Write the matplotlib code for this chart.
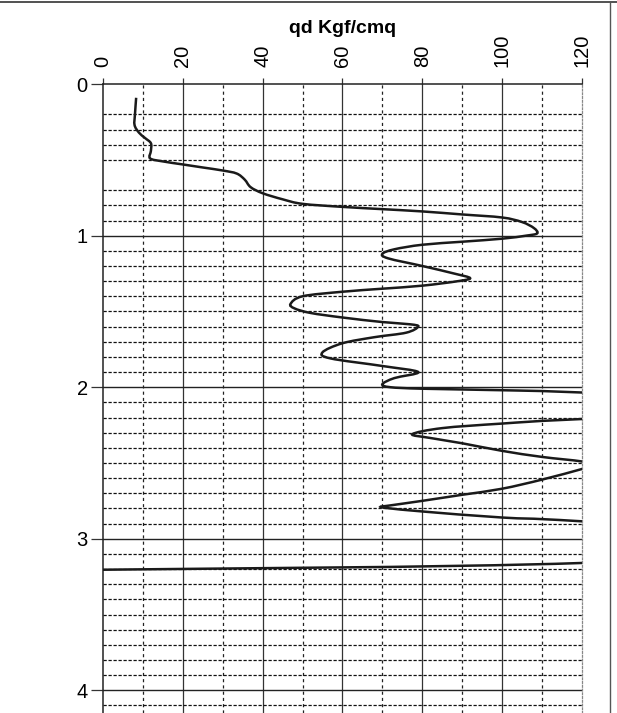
import numpy as np
import matplotlib
matplotlib.use("Agg")
import matplotlib.pyplot as plt
from matplotlib.lines import Line2D
from matplotlib.path import Path
from matplotlib.patches import PathPatch

plt.rcParams["font.family"] = ["Liberation Sans", "DejaVu Sans"]

# ---------------------------------------------------------------- dati
# resistenza di punta qd [Kgf/cmq] in funzione della profondità [m]
qd = [8.3, 8.0, 7.9, 9.0, 10.5, 12.0, 12.0, 11.8, 15, 20, 25, 30, 33.5, 35.5, 37,
      40, 45, 50, 60, 70, 80, 90, 100, 105, 108, 108.8, 106, 100, 90, 80, 73,
      70, 71.5, 80, 88, 92, 89, 80, 70, 60, 50, 47, 48, 52, 60, 70, 77, 79, 76,
      68, 60, 55, 57, 70, 79, 73, 70, 72, 80, 100, 120, 200, 120, 100, 85, 77.5,
      82, 90, 100, 110, 120, 123, 120, 110, 100, 90, 80, 72, 69.5, 72, 80, 100,
      120, 200, 120, -2]
depth = [0.09, 0.20, 0.27, 0.32, 0.355, 0.39, 0.44, 0.49, 0.51, 0.53, 0.55, 0.57,
         0.59, 0.63, 0.68, 0.72, 0.76, 0.79, 0.81, 0.825, 0.84, 0.86, 0.88, 0.91,
         0.95, 0.985, 1.0, 1.02, 1.04, 1.06, 1.09, 1.12, 1.15, 1.20, 1.25, 1.28,
         1.30, 1.33, 1.35, 1.37, 1.40, 1.45, 1.48, 1.51, 1.54, 1.57, 1.585, 1.60,
         1.64, 1.67, 1.71, 1.77, 1.81, 1.86, 1.90, 1.94, 1.98, 2.0, 2.01, 2.02,
         2.035, 2.12, 2.21, 2.24, 2.27, 2.31, 2.335, 2.37, 2.42, 2.46, 2.49, 2.515,
         2.54, 2.61, 2.67, 2.71, 2.75, 2.78, 2.79, 2.80, 2.82, 2.86, 2.885, 3.02,
         3.16, 3.205]

x_major = [0, 20, 40, 60, 80, 100, 120]
x_minor = [10, 30, 50, 70, 90, 110]
y_major = [0, 1, 2, 3, 4]
y_minor = [d / 10 for d in range(2, 42) if d % 10 != 0 and d != 6]


def smooth_path(xs, ys, t=1 / 6):
    """Linea 'smussata' tipo Excel: segmenti di Bézier cubiche (Catmull-Rom)."""
    p = np.column_stack([xs, ys]).astype(float)
    verts = [p[0]]
    codes = [Path.MOVETO]
    n = len(p)
    for i in range(n - 1):
        p0 = p[i - 1] if i > 0 else p[i]
        p3 = p[i + 2] if i + 2 < n else p[i + 1]
        c1 = p[i] + (p[i + 1] - p0) * t
        c2 = p[i + 1] - (p3 - p[i]) * t
        verts += [c1, c2, p[i + 1]]
        codes += [Path.CURVE4] * 3
    return Path(verts, codes)


# ---------------------------------------------------------------- figura
fig = plt.figure(figsize=(6.17, 7.13), dpi=100)
ax = fig.add_axes([0.167, 0.0, 0.776, 0.882])

ax.set_xlim(0, 120)
ax.set_ylim(4.15, 0)

# griglia: continua sui valori principali, tratteggiata sui secondari
for x in x_major[1:-1]:
    ax.axvline(x, color="#333333", lw=0.9, zorder=1)
for x in x_minor:
    ax.axvline(x, color="#222222", lw=0.9, ls=(0, (2.5, 2.5)), zorder=1)
for y in y_major[1:]:
    ax.axhline(y, color="#222222", lw=1.0, zorder=1)
for y in y_minor:
    ax.axhline(y, color="#111111", lw=0.9, ls=(0, (2.6, 1.4)), zorder=1)

curve = PathPatch(smooth_path(qd, depth), facecolor="none", edgecolor="#1a1a1a",
                  lw=1.8, zorder=3)
ax.add_patch(curve)

ax.xaxis.tick_top()
ax.xaxis.set_label_position("top")
ax.set_xticks(x_major)
ax.set_xticklabels([str(v) for v in x_major], rotation=90, fontsize=14.5)
ax.set_yticks(y_major)
ax.set_yticklabels([str(v) for v in y_major], fontsize=14.5)
ax.tick_params(axis="x", length=4, width=0.9, pad=8, color="#333333")
ax.tick_params(axis="y", length=9, width=0.9, pad=2, color="#333333")
ax.set_xlabel("qd Kgf/cmq", fontsize=14, fontweight="bold", labelpad=1)

for side in ("left", "top"):
    ax.spines[side].set_color("#222222")
    ax.spines[side].set_linewidth(1.1)
ax.spines["bottom"].set_visible(False)
ax.spines["right"].set_color("#888888")
ax.spines["right"].set_linewidth(0.9)
ax.spines["right"].set_linestyle((0, (1.5, 1.5)))

# cornice del foglio
fig.add_artist(Line2D([0, 1], [0.997, 0.997], transform=fig.transFigure,
                      color="#333333", lw=1.2))
fig.add_artist(Line2D([0.989, 0.989], [0, 0.997], transform=fig.transFigure,
                      color="#555555", lw=1.0))

fig.savefig("out.png", dpi=100)
